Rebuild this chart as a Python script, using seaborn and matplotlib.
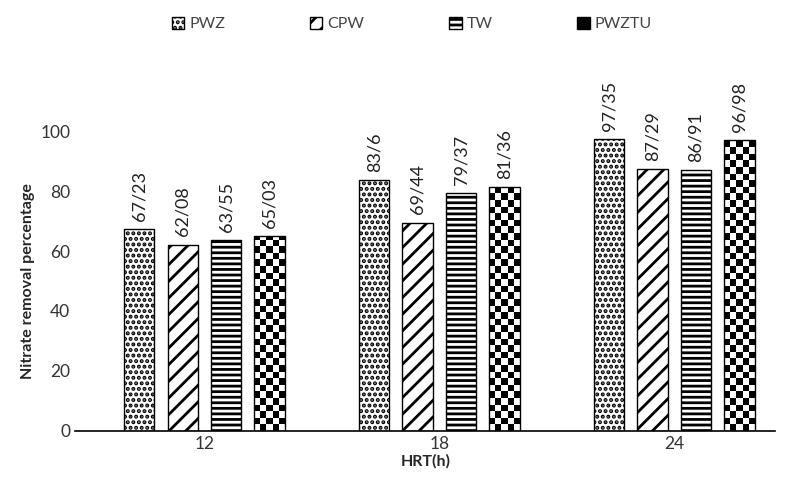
import numpy as np
import pandas as pd
import matplotlib
matplotlib.use("Agg")
import matplotlib.pyplot as plt
from matplotlib.patches import Patch
import seaborn as sns

hrt = ["12", "18", "24"]
systems = ["PWZ", "CPW", "TW", "PWZTU"]
pwz = [67.23, 83.6, 97.35]
cpw = [62.08, 69.44, 87.29]
tw = [63.55, 79.37, 86.91]
pwztu = [65.03, 81.36, 96.98]
labels = {
    "PWZ": ["67/23", "83/6", "97/35"],
    "CPW": ["62/08", "69/44", "87/29"],
    "TW": ["63/55", "79/37", "86/91"],
    "PWZTU": ["65/03", "81/36", "96/98"],
}

rows = []
for name, vals in zip(systems, [pwz, cpw, tw, pwztu]):
    for h, v in zip(hrt, vals):
        rows.append({"HRT": h, "System": name, "Value": v})
df = pd.DataFrame(rows)

sns.set_style("white")
plt.rcParams["font.family"] = ["Lato", "DejaVu Sans"]
plt.rcParams["hatch.linewidth"] = 2.0

fig = plt.figure(figsize=(7.92, 4.93), dpi=100)
ax = fig.add_axes([0.095, 0.126, 0.884, 0.608])

sns.barplot(data=df, x="HRT", y="Value", hue="System", order=hrt, hue_order=systems,
            palette=["white"] * 4, edgecolor="black", linewidth=1.0,
            width=0.74, gap=0.3, legend=False, ax=ax)

hatches = {"PWZ": "...", "CPW": "//", "TW": "---", "PWZTU": ""}
checker = np.indices((60, 5)).sum(axis=0) % 2

for cont, name in zip(ax.containers, systems):
    for bar, txt in zip(cont, labels[name]):
        bar.set_hatch(hatches[name])
        x0, w, h = bar.get_x(), bar.get_width(), bar.get_height()
        if name == "PWZTU":
            ny = int(np.ceil(h / 2.2))
            img = ax.imshow(checker[:ny], cmap="gray_r", interpolation="nearest",
                            extent=[x0, x0 + w, 0, ny * 2.2], origin="lower",
                            aspect="auto", zorder=bar.get_zorder() + 0.1)
            img.set_clip_path(bar)
            bar.set_zorder(bar.get_zorder() + 0.2)
            bar.set_facecolor("none")
        ax.annotate(txt, (x0 + w / 2, h), xytext=(0, 6), textcoords="offset points",
                    rotation=90, ha="center", va="bottom", fontsize=13,
                    color="#222222", annotation_clip=False)

ax.set_xlim(-0.55, 2.43)
ax.set_ylim(0, 100)
ax.set_yticks(range(0, 101, 20))
ax.tick_params(axis="both", labelsize=12.5, colors="#333333", length=0)
ax.set_xlabel("HRT(h)", fontsize=11.5, fontweight="bold", labelpad=2)
ax.set_ylabel("Nitrate removal percentage", fontsize=11.5, fontweight="bold")
for s in ["top", "right", "left"]:
    ax.spines[s].set_visible(False)
ax.spines["bottom"].set_color("black")
ax.spines["bottom"].set_linewidth(1.2)

handles = []
for name in systems:
    if name == "PWZTU":
        handles.append(Patch(facecolor="black", edgecolor="black", hatch="++", label=name))
    else:
        handles.append(Patch(facecolor="white", edgecolor="black", hatch=hatches[name], label=name))
fig.legend(handles=handles, loc="upper center", bbox_to_anchor=(0.52, 0.995), ncol=4,
           frameon=False, fontsize=11.5, handlelength=0.8, handleheight=0.8,
           handletextpad=0.3, columnspacing=5.3, labelcolor="#444444")

fig.savefig("out.png", dpi=100)
